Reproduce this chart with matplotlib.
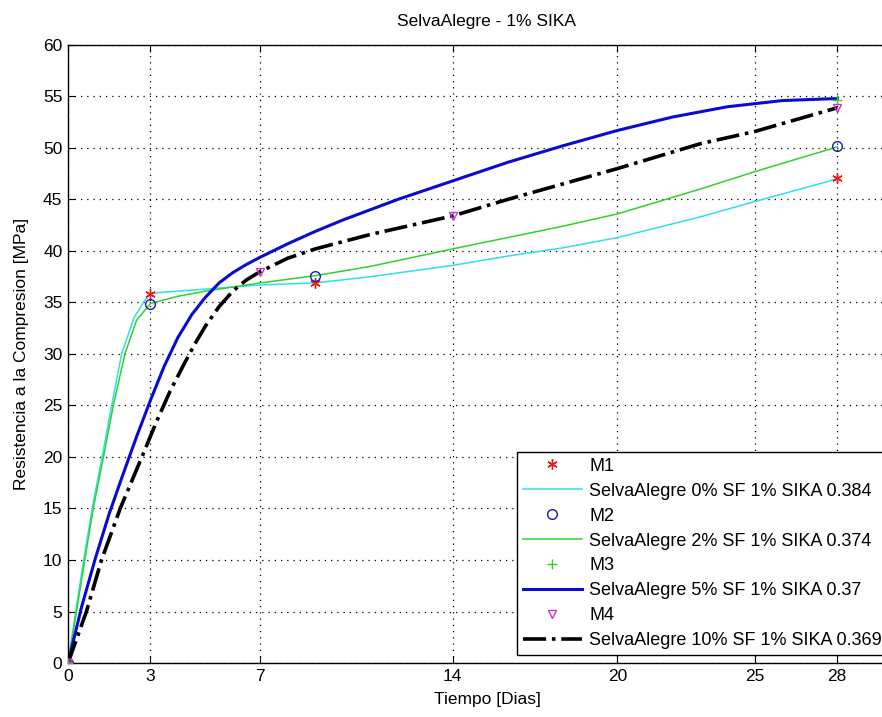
# SelvaAlegre - 1% SIKA: compressive strength vs curing time
# measured points (M1..M4) + fitted curves for each SF dosage

import matplotlib
matplotlib.use("Agg")
import matplotlib.pyplot as plt

plt.rcParams['font.family'] = ['Liberation Sans', 'DejaVu Sans']

# Measured points
m1_t = [0, 3, 9, 28]
m1_r = [0, 35.8, 36.9, 47.1]
m2_t = [0, 3, 9, 28]
m2_r = [0, 34.9, 37.6, 50.2]
m3_t = [0, 28]
m3_r = [0, 54.7]
m4_t = [0, 7, 14, 28]
m4_r = [0, 38.0, 43.4, 53.9]

# Fitted curves
c0_t = [0, 0.28, 0.57, 0.88, 1.24, 1.59, 1.95, 2.4, 2.74, 3, 4, 5, 6, 7, 9, 11, 14, 16, 18, 20, 23, 25, 28]
c0_r = [0, 5, 10, 15, 20, 25, 30, 33.5, 35, 35.9, 36.1, 36.3, 36.5, 36.7, 36.9, 37.5, 38.6, 39.5, 40.3, 41.3, 43.3, 44.8, 47.0]

c2_t = [0, 0.31, 0.61, 0.92, 1.29, 1.65, 2.07, 2.5, 3, 4, 5, 6, 7, 9, 11, 14, 16, 18, 20, 23, 25, 28]
c2_r = [0, 5, 10, 15, 20, 25, 30, 33.3, 34.9, 35.6, 36.1, 36.5, 36.9, 37.6, 38.5, 40.2, 41.3, 42.4, 43.6, 46.0, 47.7, 50.1]

c5_t = [0, 0.5, 1.0, 1.5, 2.0, 2.5, 3.0, 3.5, 4.0, 4.5, 5.0, 5.5, 6.0, 6.5, 7, 8, 9, 10, 12, 14, 16, 18, 20, 22, 24, 26, 28]
c5_r = [0, 5.5, 10.2, 14.5, 18.3, 22.0, 25.5, 28.8, 31.6, 33.8, 35.5, 36.9, 37.9, 38.7, 39.4, 40.7, 41.9, 43.0, 45.0, 46.8, 48.6, 50.2, 51.7, 53.0, 54.0, 54.6, 54.8]

c10_t = [0, 0.67, 1.22, 1.9, 2.69, 3.2, 3.7, 4.2, 4.6, 5.0, 5.5, 6.0, 6.5, 7, 8, 9, 11, 14, 16, 18, 20, 23, 25, 28]
c10_r = [0, 5, 10, 15, 20, 23.3, 26.3, 28.9, 30.9, 32.7, 34.6, 36.1, 37.2, 38.0, 39.3, 40.2, 41.6, 43.4, 45, 46.5, 48, 50.4, 51.6, 53.9]

xticks = [0, 3, 7, 14, 20, 25, 28]
yticks = list(range(0, 61, 5))

fs = 12.5

fig = plt.figure(figsize=(8.82, 7.17), dpi=100)
ax = fig.add_axes([0.0771, 0.0753, 0.95, 0.862])

ax.plot(m1_t, m1_r, marker=(6, 2, 0), ls='none', color='#e02020', ms=7.5, mew=1, label='M1', zorder=5)
ax.plot(c0_t, c0_r, '-', color='#30e0e8', lw=1.1, label='SelvaAlegre 0% SF 1% SIKA 0.384')
ax.plot(m2_t, m2_r, 'o', color='#1a1ab0', mfc='none', ms=7, mew=1, label='M2', zorder=5)
ax.plot(c2_t, c2_r, '-', color='#30d030', lw=1.1, label='SelvaAlegre 2% SF 1% SIKA 0.374')
ax.plot(m3_t, m3_r, '+', color='#30d030', ms=7, mew=1, label='M3', zorder=5)
ax.plot(c5_t, c5_r, '-', color='#0a0ad0', lw=2.2, label='SelvaAlegre 5% SF 1% SIKA 0.37')
ax.plot(m4_t, m4_r, 'v', color='#d030d0', mfc='none', ms=6, mew=1, label='M4', zorder=5)
ax.plot(c10_t, c10_r, '-.', color='black', lw=2.6, label='SelvaAlegre 10% SF 1% SIKA 0.369')

# axis right edge falls outside the picture, like the original screenshot
ax.set_xlim(0, 30.5)
ax.set_ylim(0, 60)
ax.set_xticks(xticks)
ax.set_yticks(yticks)
ax.tick_params(direction='in', top=True, right=True, length=5, labelsize=fs, pad=4)
ax.grid(True, linestyle=(0, (1, 4)), color='black', lw=0.9)
for s in ax.spines.values():
    s.set_linewidth(1.0)

ax.set_title('SelvaAlegre - 1% SIKA', fontsize=fs, pad=14)
ax.set_xlabel('Tiempo [Dias]', fontsize=fs, labelpad=6)
ax.set_ylabel('Resistencia a la Compresion [MPa]', fontsize=fs, labelpad=10)

leg = ax.legend(loc='upper left', bbox_to_anchor=(0.536, 0.341), fontsize=13,
                handlelength=3.3, handletextpad=0.4, labelspacing=0.44,
                borderpad=0.3, borderaxespad=0, fancybox=False, framealpha=1,
                edgecolor='black')
leg.get_frame().set_linewidth(1.0)

fig.savefig('out.png', dpi=100)
